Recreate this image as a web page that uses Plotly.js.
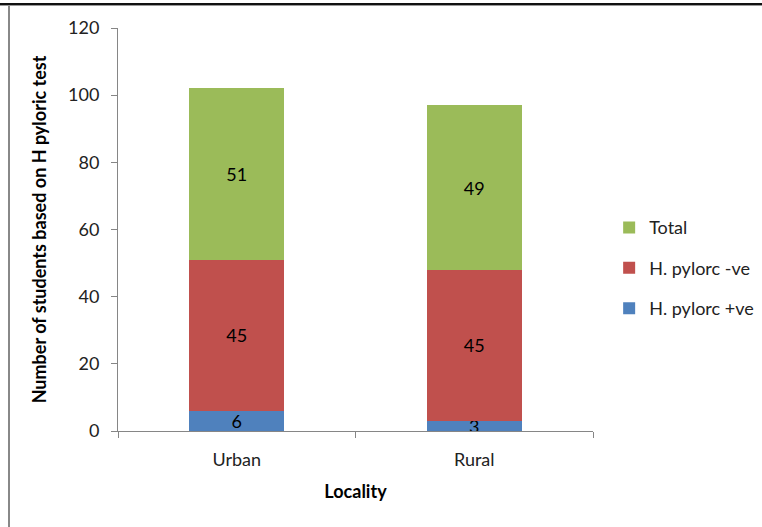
<!DOCTYPE html>
<html>
<head>
<meta charset="utf-8">
<script src="https://cdn.plot.ly/plotly-3.0.1.min.js"></script>
<style>
  html, body { margin: 0; padding: 0; background: #fff; }
  #wrap { position: relative; width: 762px; height: 527px; overflow: hidden; }
  #chart { position: absolute; left: 0; top: 0; width: 762px; height: 527px; }
  #frame { position: absolute; left: 8px; top: 3px; width: 800px; height: 600px;
           border-top: 2px solid #111; border-left: 2px solid #888; pointer-events: none; }
  #frameTop2 { position: absolute; left: 0; top: 5px; width: 762px; height: 1px; background: #999; }
  #frameTopL { position: absolute; left: 0; top: 3px; width: 10px; height: 2px; background: #111; }
</style>
</head>
<body>
<div id="wrap">
  <div id="chart"></div>
  <div id="frame"></div>
  <div id="frameTop2"></div>
  <div id="frameTopL"></div>
</div>
<script>
// Students by locality, split by H. pylori test result
const localities = ["Urban", "Rural"];
const positive = [6, 3];
const negative = [45, 45];
const total = [51, 49];

const seriesNames = ["H. pylorc +ve", "H. pylorc -ve", "Total"];
const seriesColors = ["#4F81BD", "#C0504D", "#9BBB59"];
const seriesValues = [positive, negative, total];

const font = "Lato, 'Open Sans', 'Liberation Sans', sans-serif";
const fs = 18;

const traces = seriesValues.map((vals, i) => ({
  type: "bar",
  name: seriesNames[i],
  x: localities,
  y: vals,
  text: vals.map(String),
  textposition: "inside",
  insidetextanchor: "middle",
  textangle: 0,
  constraintext: "none",
  textfont: { family: font, size: fs, color: "#000" },
  marker: { color: seriesColors[i], line: { width: 0 } },
  legendgroup: "g" + i,
  legendrank: 3 - i,
  hoverinfo: "skip"
}));

const layout = {
  width: 762,
  height: 527,
  margin: { l: 118, r: 169, t: 28, b: 96, autoexpand: false },
  paper_bgcolor: "#fff",
  plot_bgcolor: "#fff",
  barmode: "stack",
  bargap: 0.6,
  showlegend: true,
  font: { family: font, size: fs, color: "#222" },
  legend: {
    x: 0.034, xref: "paper", y: 0.404, xanchor: "left", yanchor: "middle",
    traceorder: "grouped",
    tracegroupgap: 14,
    font: { family: font, size: fs, color: "#222" },
    itemwidth: 30
  },
  xaxis: {
    type: "category",
    showline: true, linecolor: "#868686", linewidth: 1,
    ticks: "outside", ticklen: 6, tickcolor: "#868686",
    tickson: "boundaries",
    ticklabelstandoff: 12,
    tickfont: { family: font, size: fs, color: "#222" },
    title: { text: "<b>Locality</b>", font: { family: font, size: fs, color: "#000" }, standoff: 16 },
    fixedrange: true
  },
  yaxis: {
    range: [0, 120],
    dtick: 20,
    showgrid: false,
    zeroline: false,
    showline: true, linecolor: "#868686", linewidth: 1,
    ticks: "outside", ticklen: 6, tickcolor: "#868686",
    ticklabelstandoff: 8,
    tickfont: { family: font, size: fs, color: "#222" },
    title: { text: "<b>Number of students based on H pyloric test</b>", font: { family: font, size: fs, color: "#000" }, standoff: 16 },
    fixedrange: true
  }
};
// legend sits just right of the plotting area
layout.legend.x = 1 + layout.legend.x;

Plotly.newPlot("chart", traces, layout, { displayModeBar: false, staticPlot: true });
</script>
</body>
</html>
